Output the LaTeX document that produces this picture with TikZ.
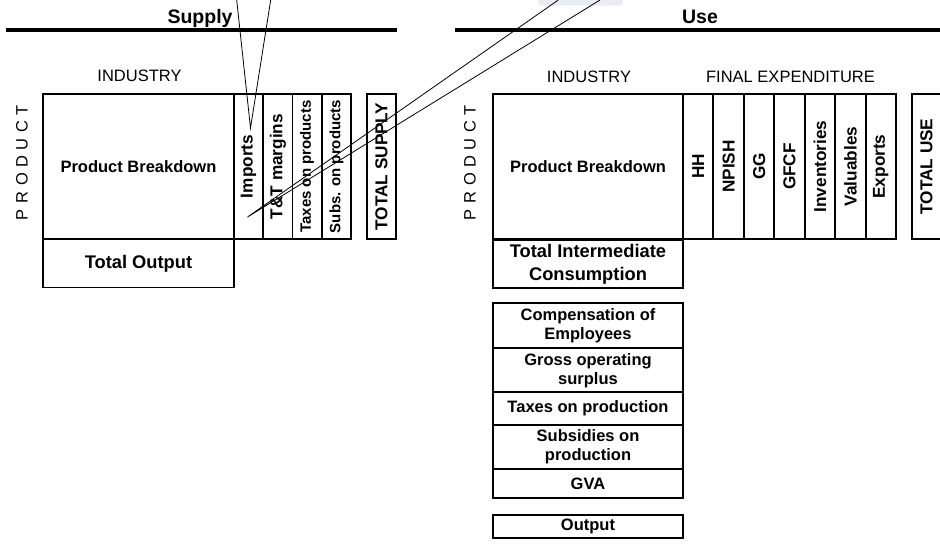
\documentclass[tikz,border=0pt]{standalone}
\usepackage{fontspec}
\setmainfont{Liberation Sans}
\definecolor{calloutfill}{HTML}{E9EDF3}
\tikzset{
  frame/.style={draw, line width=1.8pt, inner sep=1pt, align=center,
    font=\fontsize{16.5}{19}\selectfont\bfseries},
  bigcell/.style={font=\fontsize{18.3}{22.7}\selectfont\bfseries},
  colcell/.style={frame, rotate=90, minimum width=145pt,
    font=\fontsize{17.2}{19}\selectfont\bfseries},
  smallcol/.style={font=\fontsize{15}{17}\selectfont\bfseries},
  heading/.style={font=\fontsize{19.5}{22}\selectfont\bfseries, anchor=base, inner sep=0pt},
  caption/.style={font=\fontsize{16.5}{19}\selectfont, anchor=base, inner sep=0pt},
  sidecap/.style={font=\fontsize{16.5}{19}\selectfont, rotate=90, inner sep=0pt},
  rule/.style={line width=3.8pt},
  pointer/.style={line width=0.8pt},
}
\begin{document}
\begin{tikzpicture}[x=1pt,y=-1pt]
\useasboundingbox (0,0) rectangle (940,550);

% ---------------- Supply table ----------------
\coordinate (supL) at (6,30);
\coordinate (supR) at (397,30);
\draw[rule] (supL) -- (supR);
\node[heading] (suptitle) at (200,23.3) {Supply};
\node[caption] (supind) at (139.5,81.7) {INDUSTRY};
\node[sidecap] (supprod) at (22,162.5)
  {P\kern5.6pt R\kern5.6pt O\kern5.6pt D\kern5.6pt U\kern5.6pt C\kern5.6pt T};

\node[frame, minimum width=191pt, minimum height=145pt] (supPB) at (138.5,166.5) {Product Breakdown};
\node[frame, bigcell, minimum width=191pt, minimum height=48pt] (supTO) at (138.5,263.5) {Total Output};

\node[colcell, minimum height=29.25pt] (imp) at (248.6,166.5) {Imports};
\node[colcell, minimum height=29.25pt] (ttm) at (277.9,166.5) {T\&T margins};
\node[colcell, minimum height=29.25pt, smallcol] (tax) at (307.1,166.5) {Taxes on products};
\node[colcell, minimum height=29.25pt, smallcol] (sub) at (336.4,166.5) {Subs. on products};
\node[colcell, minimum height=29pt] (totsup) at (381.5,166.5) {TOTAL SUPPLY};

% ---------------- Use table ----------------
\coordinate (useL) at (455,30);
\coordinate (useR) at (942,30);
\draw[rule] (useL) -- (useR);
\node[heading] (usetitle) at (700,23.3) {Use};
\node[caption] (useind) at (589,82) {INDUSTRY};
\node[caption] (usefin) at (790.5,82) {FINAL EXPENDITURE};
\node[sidecap] (useprod) at (470,162.5)
  {P\kern5.6pt R\kern5.6pt O\kern5.6pt D\kern5.6pt U\kern5.6pt C\kern5.6pt T};

\node[frame, minimum width=190pt, minimum height=145pt] (usePB) at (588,166.5) {Product Breakdown};
\node[frame, bigcell, minimum width=190pt, minimum height=48pt] (tic) at (588,264)
  {Total Intermediate\\Consumption};

\node[colcell, minimum height=30.43pt] (hh)   at (698.2,166.5) {HH};
\node[colcell, minimum height=30.43pt] (npi)  at (728.6,166.5) {NPISH};
\node[colcell, minimum height=30.43pt] (gg)   at (759.1,166.5) {GG};
\node[colcell, minimum height=30.43pt] (gfcf) at (789.5,166.5) {GFCF};
\node[colcell, minimum height=30.43pt] (inv)  at (819.9,166.5) {Inventories};
\node[colcell, minimum height=30.43pt] (val)  at (850.4,166.5) {Valuables};
\node[colcell, minimum height=30.43pt] (exp)  at (880.8,166.5) {Exports};
\node[colcell, minimum height=29pt] (totuse) at (926.5,166.5) {TOTAL USE};

% value added block
\node[frame, minimum width=190pt, minimum height=45pt] (coe) at (588,325.8) {Compensation of\\Employees};
\node[frame, minimum width=190pt, minimum height=44pt] (gos) at (588,370.3) {Gross operating\\surplus};
\node[frame, minimum width=190pt, minimum height=32.7pt] (tprod) at (588,408.7) {Taxes on production};
\node[frame, minimum width=190pt, minimum height=44.3pt] (sprod) at (588,447.2) {Subsidies on\\production};
\node[frame, minimum width=190pt, minimum height=29pt] (gva) at (588,483.8) {GVA};
\node[frame, minimum width=190pt, minimum height=23.3pt] (outp) at (588,526.7) {Output};

% ---------------- callout pointers ----------------
\fill[calloutfill, rounded corners=3pt] (538,-10) rectangle (623,5.5);
\coordinate (tipA) at (250.5,128);
\coordinate (a1) at (236.7,0);
\coordinate (a2) at (270.7,0);
\draw[pointer] (a1) -- (tipA) -- (a2);
\coordinate (tipB) at (247.5,217);
\coordinate (b1) at (558.3,0);
\coordinate (b2) at (600,0);
\draw[pointer] (b1) -- (tipB) -- (b2);
\end{tikzpicture}
\end{document}
